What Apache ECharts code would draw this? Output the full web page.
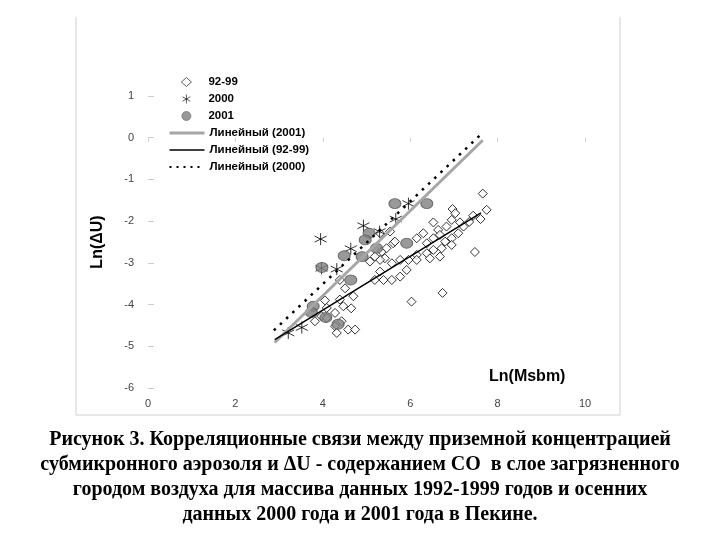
<!DOCTYPE html>
<html>
<head>
<meta charset="utf-8">
<script src="https://cdn.jsdelivr.net/npm/echarts@6/dist/echarts.min.js"></script>
<style>
html,body{margin:0;padding:0;background:#fff;}
#c{width:720px;height:540px;}
</style>
</head>
<body>
<div id="c"></div>
<script>
// ---- data ----
const xTicks = [0, 2, 4, 6, 8, 10];
const yTicks = [-6, -5, -4, -3, -2, -1, 0, 1];

const data9299 = [
  [7.66,-1.34],[7.75,-1.73],[7.61,-1.95],[7.48,-2.74],[6.74,-3.72],[6.03,-3.93],
  [6.97,-1.71],[7.03,-1.81],[7.44,-1.87],[7.35,-2.02],[7.14,-2.03],[6.95,-1.97],
  [6.83,-2.13],[6.64,-2.21],[6.53,-2.03],[6.30,-2.29],[6.15,-2.41],[6.38,-2.53],
  [6.53,-2.41],[6.68,-2.33],[6.80,-2.49],[6.95,-2.41],[7.10,-2.29],[7.22,-2.13],
  [6.95,-2.57],[6.72,-2.65],[6.53,-2.69],[6.38,-2.77],[6.15,-2.81],[5.96,-2.93],
  [5.77,-2.93],[5.58,-3.01],[5.42,-2.89],[5.31,-2.93],[5.19,-2.85],[5.08,-2.97],
  [5.35,-2.73],[5.46,-2.65],[5.61,-2.53],[5.31,-3.21],[5.19,-3.41],[5.39,-3.41],
  [5.58,-3.41],[5.77,-3.33],[5.92,-3.17],[6.15,-2.93],[6.45,-2.89],[6.68,-2.85],
  [5.54,-2.25],[5.31,-2.29],[5.65,-2.49],
  [4.39,-3.41],[4.51,-3.61],[4.70,-3.80],[4.39,-3.88],[4.47,-4.04],[4.09,-4.08],
  [4.28,-4.20],[3.97,-4.28],[3.82,-4.40],[4.09,-4.32],[4.28,-4.52],[4.32,-4.68],
  [4.58,-4.60],[4.74,-4.60],[4.43,-4.40],[4.65,-4.09],[4.05,-3.90]
];
const data2000 = [
  [3.95,-2.43],[4.93,-2.11],[5.67,-1.95],[5.96,-1.58],[4.64,-2.66],[4.32,-3.15],
  [3.97,-3.13],[3.21,-4.68],[3.52,-4.55],[5.30,-2.25]
];
const data2001 = [
  [5.65,-1.58],[6.38,-1.58],[5.06,-2.29],[4.97,-2.45],[5.23,-2.65],[4.49,-2.83],
  [4.90,-2.85],[5.92,-2.53],[3.98,-3.11],[4.64,-3.41],[3.78,-4.04],[3.74,-4.19],
  [4.07,-4.31],[4.35,-4.47]
];
const trend2001 = [[2.9,-4.91],[7.66,-0.06]];
const trend9299 = [[2.9,-4.84],[7.62,-1.80]];
const trend2000 = [[2.88,-4.62],[7.6,0.06]];

const seriesNames = ['92-99','2000','2001','Линейный (2001)','Линейный (92-99)','Линейный (2000)'];
const captionLines = [
  'Рисунок 3. Корреляционные связи между приземной концентрацией',
  'субмикронного аэрозоля и ΔU - содержанием CO  в слое загрязненного',
  'городом воздуха для массива данных 1992-1999 годов и осенних',
  'данных 2000 года и 2001 года в Пекине.'
];

// ---- styles ----
const starPath = 'path://M5,0L5,10M0.67,2.5L9.33,7.5M0.67,7.5L9.33,2.5';
const lineStyles = [
  {color:'#a6a6a6', width:3},
  {color:'#000', width:1.5},
  {color:'#000', width:2.5, type:[2.5,6]}
];
const legendText = {fontFamily:'Liberation Sans, Arial', fontWeight:'bold', fontSize:11.5, color:'#000'};
const hiddenItem = {color:'rgba(0,0,0,0)', borderWidth:0, borderColor:'rgba(0,0,0,0)'};

const chart = echarts.init(document.getElementById('c'), null, {renderer:'canvas'});
const option = {
  backgroundColor: '#fff',
  animation: false,
  grid: {left:148, top:96, width:437, height:292},
  legend: [
    {
      orient: 'vertical', left: 181, top: 76, padding: 0,
      itemWidth: 10, itemHeight: 9, itemGap: 5,
      data: [
        {name: seriesNames[0], itemStyle:{color:'#fff', borderColor:'#000', borderWidth:0.8}},
        {name: seriesNames[1], itemStyle:{color:'rgba(0,0,0,0)', borderColor:'#000', borderWidth:0.8}},
        {name: seriesNames[2], itemStyle:{color:'#7f7f7f', borderColor:'#666', borderWidth:0.8}}
      ],
      textStyle: Object.assign({padding:[0,0,0,12]}, legendText)
    },
    {
      orient: 'vertical', left: 168, top: 127, padding: 0,
      itemWidth: 35, itemHeight: 9, itemGap: 5,
      data: [
        {name: seriesNames[3], itemStyle:hiddenItem, lineStyle:lineStyles[0]},
        {name: seriesNames[4], itemStyle:hiddenItem, lineStyle:lineStyles[1]},
        {name: seriesNames[5], itemStyle:hiddenItem, lineStyle:{color:'#000', width:2, type:[2,5]}}
      ],
      textStyle: legendText
    }
  ],
  xAxis: {
    type:'value', min: xTicks[0], max: xTicks[xTicks.length-1], interval: 2,
    axisLine:{show:false},
    axisTick:{show:true, length:4, lineStyle:{color:'#ccc'}},
    splitLine:{show:false},
    axisLabel:{color:'#444', fontSize:11, fontFamily:'Liberation Sans, Arial', margin:10}
  },
  yAxis: {
    type:'value', min: yTicks[0], max: yTicks[yTicks.length-1], interval: 1,
    axisLine:{show:false},
    axisTick:{show:true, inside:true, length:6, lineStyle:{color:'#ccc'}},
    splitLine:{show:false},
    axisLabel:{color:'#444', fontSize:11, fontFamily:'Liberation Sans, Arial', margin:14},
    name:'Ln(ΔU)', nameLocation:'middle', nameGap:42, nameRotate:90,
    nameTextStyle:{fontFamily:'Liberation Sans, Arial', fontWeight:'bold', fontSize:16, color:'#000'}
  },
  series: [
    {name:seriesNames[0], type:'scatter', data:data9299, symbol:'diamond', symbolSize:9,
     itemStyle:{color:'#fff', borderColor:'#000', borderWidth:1}, z:2},
    {name:seriesNames[1], type:'scatter', data:data2000, symbol:starPath, symbolSize:12,
     itemStyle:{color:'rgba(0,0,0,0)', borderColor:'#000', borderWidth:1}, z:3},
    {name:seriesNames[2], type:'scatter', data:data2001, symbol:'circle', symbolSize:[12,10],
     itemStyle:{color:'#7f7f7f', borderColor:'#555', borderWidth:1}, z:4},
    {name:seriesNames[3], type:'line', data:trend2001, symbol:'none',
     lineStyle:lineStyles[0], itemStyle:{color:'#a6a6a6'}, z:5},
    {name:seriesNames[4], type:'line', data:trend9299, symbol:'none',
     lineStyle:lineStyles[1], itemStyle:{color:'#000'}, z:6},
    {name:seriesNames[5], type:'line', data:trend2000, symbol:'none',
     lineStyle:lineStyles[2], itemStyle:{color:'#000'}, z:6}
  ],
  graphic: [
    {type:'polyline', shape:{points:[[76,17],[76,415],[620,415],[620,17]]},
     style:{stroke:'#cfcfcf', lineWidth:1, fill:null}, silent:true},
    {type:'text', left:489, top:369,
     style:{text:'Ln(Msbm)', font:'bold 16px "Liberation Sans", Arial', fill:'#000'}},
    {type:'text', left:'center', top:427,
     style:{text:captionLines.join('\n'), font:'bold 20px "Liberation Serif", "Times New Roman", serif',
            fill:'#000', textAlign:'center', lineHeight:25}}
  ]
};
chart.setOption(option);
</script>
</body>
</html>
